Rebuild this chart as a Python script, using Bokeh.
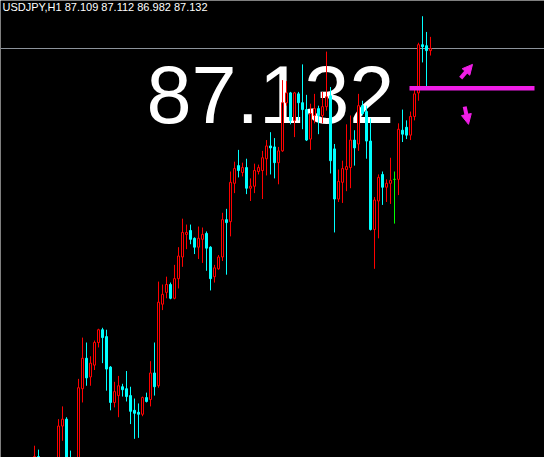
from bokeh.plotting import figure
from bokeh.models import Range1d, ColumnDataSource, Arrow, NormalHead
from bokeh.core.properties import value
from bokeh.embed import file_html
from bokeh.resources import INLINE

# ---------------- data (H1 bars, price in JPY) ----------------
bars = list(range(100))
opens = [85.017, 85.057, 85.027, 84.987, 84.952, 84.977, 84.987, 85.212, 85.247, 85.027,
         84.997, 85.017, 85.402, 85.557, 85.462, 85.522, 85.637, 85.702, 85.667, 85.512,
         85.332, 85.367, 85.412, 85.402, 85.367, 85.292, 85.282, 85.272, 85.357, 85.347,
         85.482, 85.417, 85.832, 85.892, 85.932, 85.862, 85.962, 86.072, 86.187, 86.207,
         86.167, 86.122, 86.162, 86.192, 86.122, 85.972, 86.012, 86.072, 86.262, 86.252,
         86.447, 86.537, 86.502, 86.527, 86.422, 86.432, 86.507, 86.512, 86.572, 86.637,
         86.632, 86.552, 86.612, 86.857, 86.907, 86.767, 86.902, 86.857, 86.822, 86.672,
         86.792, 86.827, 86.792, 86.837, 86.892, 86.622, 86.367, 86.452, 86.517, 86.527,
         86.667, 86.647, 86.842, 86.812, 86.662, 86.212, 86.357, 86.492, 86.427, 86.447,
         86.467, 86.467, 86.717, 86.732, 86.692, 86.787, 86.907, 87.152, 87.147, 87.122]
highs = [85.112, 85.092, 85.037, 85.007, 84.997, 85.017, 85.247, 85.312, 85.257, 85.087,
         85.037, 85.452, 85.662, 85.637, 85.567, 85.647, 85.707, 85.712, 85.702, 85.517,
         85.437, 85.467, 85.427, 85.492, 85.412, 85.352, 85.327, 85.362, 85.382, 85.542,
         85.637, 85.947, 85.932, 85.972, 85.942, 86.032, 86.122, 86.267, 86.237, 86.237,
         86.172, 86.227, 86.222, 86.202, 86.127, 86.032, 86.082, 86.297, 86.317, 86.507,
         86.557, 86.617, 86.552, 86.572, 86.472, 86.547, 86.542, 86.612, 86.667, 86.707,
         86.677, 86.632, 86.972, 86.967, 86.912, 86.912, 86.912, 87.052, 86.897, 86.852,
         86.902, 86.842, 86.912, 87.117, 86.937, 86.647, 86.517, 86.562, 86.747, 86.792,
         86.717, 86.902, 86.867, 86.842, 86.777, 86.377, 86.492, 86.507, 86.467, 86.577,
         86.507, 86.752, 86.822, 86.767, 86.812, 86.927, 87.162, 87.297, 87.217, 87.192]
lows = [84.997, 85.007, 84.967, 84.927, 84.917, 84.947, 84.967, 85.137, 85.007, 84.977,
        84.957, 84.997, 85.332, 85.417, 85.417, 85.497, 85.612, 85.532, 85.392, 85.292,
        85.307, 85.257, 85.362, 85.337, 85.222, 85.147, 85.152, 85.262, 85.332, 85.312,
        85.367, 85.407, 85.802, 85.862, 85.857, 85.857, 85.912, 86.022, 86.112, 86.137,
        86.087, 86.062, 86.042, 86.002, 85.902, 85.942, 86.007, 86.052, 85.982, 86.177,
        86.397, 86.477, 86.482, 86.392, 86.357, 86.397, 86.492, 86.367, 86.487, 86.492,
        86.472, 86.442, 86.607, 86.842, 86.747, 86.682, 86.767, 86.722, 86.662, 86.617,
        86.752, 86.697, 86.752, 86.817, 86.497, 86.197, 86.352, 86.347, 86.407, 86.422,
        86.537, 86.612, 86.792, 86.572, 86.207, 86.012, 86.167, 86.337, 86.352, 86.342,
        86.242, 86.387, 86.657, 86.672, 86.667, 86.767, 86.867, 87.062, 86.942, 87.097]
closes = [85.057, 85.027, 84.987, 84.952, 84.977, 84.987, 85.212, 85.247, 85.027, 84.997,
          85.017, 85.407, 85.557, 85.457, 85.532, 85.637, 85.702, 85.662, 85.502, 85.332,
          85.387, 85.417, 85.397, 85.362, 85.287, 85.277, 85.272, 85.357, 85.337, 85.482,
          85.412, 85.842, 85.882, 85.932, 85.862, 85.962, 86.077, 86.197, 86.197, 86.162,
          86.122, 86.167, 86.187, 86.117, 85.962, 86.017, 86.072, 86.262, 86.247, 86.452,
          86.522, 86.512, 86.527, 86.422, 86.432, 86.512, 86.527, 86.577, 86.637, 86.627,
          86.552, 86.612, 86.857, 86.907, 86.767, 86.907, 86.857, 86.822, 86.667, 86.802,
          86.827, 86.792, 86.837, 86.887, 86.562, 86.367, 86.457, 86.522, 86.532, 86.667,
          86.627, 86.842, 86.802, 86.662, 86.212, 86.362, 86.477, 86.427, 86.447, 86.462,
          86.467, 86.722, 86.697, 86.692, 86.787, 86.902, 87.152, 87.142, 87.122, 87.132]

header = "USDJPY,H1 87.109 87.112 86.982 87.132"

# magenta signal level object (bar index span) and signal arrows
signal_level = 86.930
signal_bars = [93.75, 125.0]
arrow_x0 = [106.55, 107.55]
arrow_y0 = [86.982, 86.837]
arrow_x1 = [109.5, 108.5]
arrow_y1 = [87.052, 86.747]

# ---------------- styling ----------------
UP, DOWN, DOJI = "#ff0000", "#00ffff", "#00ff00"
MAGENTA = "#f01ee6"
line_cols, fill_cols, tops, bots = [], [], [], []
for o, c in zip(opens, closes):
    if c > o:
        line_cols.append(UP); fill_cols.append("#000000")
    elif c < o:
        line_cols.append(DOWN); fill_cols.append(DOWN)
    else:
        line_cols.append(DOJI); fill_cols.append(DOJI)
    tops.append(max(o, c)); bots.append(min(o, c))

src = ColumnDataSource(dict(x=bars, o=opens, h=highs, l=lows, c=closes,
                            top=tops, bottom=bots, lc=line_cols, fc=fill_cols))

p = figure(width=544, height=457,
           x_range=Range1d(-8.5, 127.5), y_range=Range1d(85.052, 87.377),
           x_axis_type=None, y_axis_type=None,
           output_backend="svg", toolbar_location=None,
           background_fill_color="#000000", border_fill_color="#000000",
           outline_line_color=None, min_border=0)
p.grid.visible = False

# big price label (behind the candles)
p.text(x=[28.0], y=[86.8995], text=[f"{closes[-1]:.3f}"], text_color="#ffffff",
       text_font=value("Liberation Sans"), text_font_size="81px",
       text_align="left", text_baseline="middle")

# current price line
p.hspan(y=[closes[-1]], line_color="#8c939b", line_width=1)

# header
p.text(x=[-8.0], y=[87.346], text=[header], text_color="#ffffff",
       text_font=value("Liberation Sans"), text_font_size="11px",
       text_align="left", text_baseline="middle")

# candles
p.segment(x0="x", y0="h", x1="x", y1="l", line_color="lc", line_width=1, source=src)
p.vbar(x="x", width=0.5, top="top", bottom="bottom", fill_color="fc",
       line_color="lc", line_width=1, source=src)

# magenta level
p.segment(x0=[signal_bars[0]], x1=[signal_bars[1]], y0=[signal_level], y1=[signal_level],
          line_color=MAGENTA, line_width=4.5)

asrc = ColumnDataSource(dict(x0=arrow_x0, y0=arrow_y0, x1=arrow_x1, y1=arrow_y1))
p.add_layout(Arrow(end=NormalHead(size=10, fill_color=MAGENTA, line_color=MAGENTA),
                   x_start="x0", y_start="y0", x_end="x1", y_end="y1",
                   line_color=MAGENTA, line_width=4, source=asrc))

open("out.html", "w").write(file_html(p, INLINE))
